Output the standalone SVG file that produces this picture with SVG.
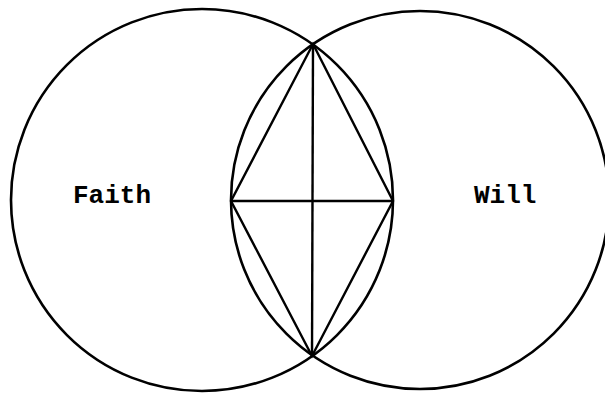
<svg xmlns="http://www.w3.org/2000/svg" width="605" height="394" viewBox="0 0 605 394">
<style>
.c{fill:none;stroke:#000;stroke-width:2.6}
.l{fill:none;stroke:#000;stroke-width:2.4;stroke-linejoin:miter}
.t{font-family:"Liberation Mono","DejaVu Sans Mono",monospace;font-weight:bold;font-size:26px;fill:#000}
</style>
<rect width="605" height="394" fill="#fff"/>
<g id="faith">
<circle class="c" cx="202" cy="200" r="191"/>
<text class="t" x="73" y="203">Faith</text>
</g>
<g id="will">
<circle class="c" cx="420" cy="200" r="189"/>
<text class="t" x="474" y="203">Will</text>
</g>
<g id="connectors">
<polygon class="l" points="313,44 393,201 312,356 231,201"/>
<line class="l" x1="313" y1="44" x2="312" y2="356"/>
<line class="l" x1="231" y1="201" x2="393" y2="201"/>
</g>
</svg>
